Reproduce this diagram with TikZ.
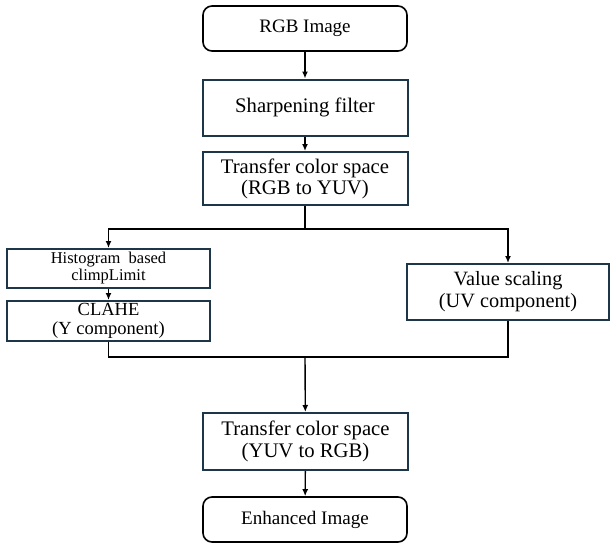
\documentclass[tikz,border=0pt]{standalone}
\usepackage{fontspec}
\setmainfont{Liberation Serif}
\usepackage{tikz}
\usetikzlibrary{arrows.meta}

\definecolor{boxline}{RGB}{30,55,72}

\tikzset{
	stepbox/.style={draw=boxline,line width=2pt,fill=white,align=center,inner sep=0pt,minimum width=205pt},
	endbox/.style={draw=black,line width=1.6pt,rounded corners=9pt,fill=white,align=center,inner sep=0pt,minimum width=204pt,minimum height=45pt},
	flow/.style={line width=1.4pt,-{Latex[length=7pt,width=6pt]}},
	link/.style={line width=1.4pt}
}

\begin{document}
\begin{tikzpicture}[x=1pt,y=-1pt]
	\useasboundingbox (0,0) rectangle (610,543);
	\draw (305,28.5) node(v1) [endbox,font=\fontsize{19}{21}\selectfont] {RGB Image};
	\draw (305,107.5) node(v2) [stepbox,minimum height=56pt,font=\fontsize{20.7}{22}\selectfont] {Sharpening filter};
	\draw (305,178.5) node(v3) [stepbox,minimum height=53pt,font=\fontsize{20.7}{21}\selectfont] {Transfer color space\\(RGB to YUV)};
	\draw (108.5,268.5) node(v4) [stepbox,minimum width=203pt,minimum height=39pt,font=\fontsize{16.5}{17}\selectfont] {Histogram\ \ based\\climpLimit};
	\draw (108.5,321) node(v5) [stepbox,minimum width=203pt,minimum height=40pt,font=\fontsize{18.5}{19}\selectfont] {CLAHE\\(Y component)};
	\draw (508,292) node(v6) [stepbox,minimum width=202pt,minimum height=56pt,font=\fontsize{20.3}{22}\selectfont] {Value scaling\\(UV component)};
	\draw (305.5,441.5) node(v7) [stepbox,minimum height=57pt,font=\fontsize{20.7}{22}\selectfont] {Transfer color space\\(YUV to RGB)};
	\draw (305,519.5) node(v8) [endbox,font=\fontsize{19.1}{21}\selectfont] {Enhanced Image};
	\coordinate (v101) at (305,229);
	\coordinate (v102) at (305,357);
	\path[draw,flow] (v1) -- (v2);
	\path[draw,flow] (v2) -- (v3);
	\path[draw,link] (v3) -- (v101);
	\path[draw,flow] (v101) -| (v4);
	\path[draw,flow] (v101) -| (v6);
	\path[draw,flow] (v4) -- (v5);
	\path[draw,link] (v5) |- (v102);
	\path[draw,link] (v6) |- (v102);
	\path[draw,flow] (v102) -- (v7);
	\path[draw,flow] (v7) -- (v8);
\end{tikzpicture}
\end{document}
